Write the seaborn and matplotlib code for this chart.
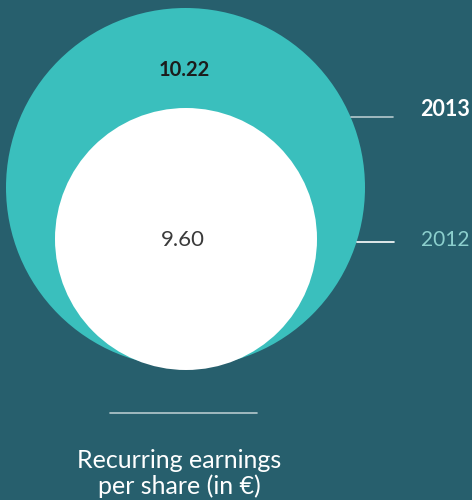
import matplotlib
matplotlib.use("Agg")
import matplotlib.pyplot as plt
from matplotlib.patches import Circle
import seaborn as sns

# ------------------------------------------------------------------
# data
# ------------------------------------------------------------------
years = ["2013", "2012"]
eps_values = [10.22, 9.60]
title_lines = ["Recurring earnings", "per share (in €)"]

# ------------------------------------------------------------------
# style
# ------------------------------------------------------------------
BG = "#275f6d"
TEAL = "#3abfbd"
WHITE = "#ffffff"
LINE_COL = "#b5c9ce"

sns.set_style("white")
plt.rcParams["font.family"] = ["Lato", "DejaVu Sans"]

fig = plt.figure(figsize=(4.72, 5.0), dpi=100, facecolor=BG)
ax = fig.add_axes([0, 0, 1, 1])
ax.set_facecolor(BG)
ax.set_xlim(0, 472)
ax.set_ylim(500, 0)
ax.set_aspect("equal")
ax.axis("off")

# circles: (centre x, centre y, radius, colour) per year
circles = [(185.5, 187.5, 179.5, TEAL), (186, 239, 131, WHITE)]
for (cx, cy, r, col) in circles:
    ax.add_patch(Circle((cx, cy), r, facecolor=col, edgecolor="none"))

# value labels inside circles
ax.text(184, 70, f"{eps_values[0]:.2f}", ha="center", va="center",
        fontsize=14.5, fontweight="bold", color="#1c1c1c")
ax.text(183, 240, f"{eps_values[1]:.2f}", ha="center", va="center",
        fontsize=16, fontweight="normal", color="#3a3a3a")

# leader lines and year labels
ax.plot([351, 393], [117, 117], color=LINE_COL, lw=1.2)
ax.plot([357, 394], [242, 242], color=WHITE, lw=1.2)
ax.text(470, 110, years[0], ha="right", va="center",
        fontsize=15.5, fontweight="bold", color=WHITE)
ax.text(469, 240, years[1], ha="right", va="center",
        fontsize=15, fontweight="normal", color="#8ccfcd")

# bottom separator and title
ax.plot([110, 257], [413, 413], color=LINE_COL, lw=1.2)
ax.text(179, 461, title_lines[0], ha="center", va="center",
        fontsize=18, color=WHITE)
ax.text(179, 486, title_lines[1], ha="center", va="center",
        fontsize=18, color=WHITE)

fig.savefig("out.png", dpi=100, facecolor=BG)
